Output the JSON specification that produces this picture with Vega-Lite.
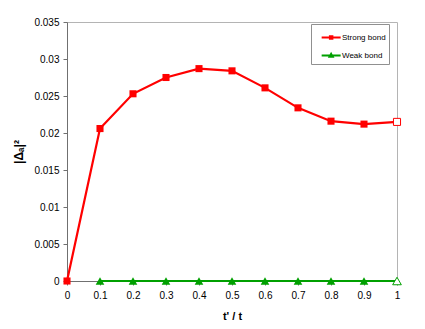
{
  "$schema": "https://vega.github.io/schema/vega-lite/v6.json",
  "width": 330,
  "height": 259,
  "autosize": {"type": "none"},
  "padding": {"left": 67, "top": 22, "right": 28, "bottom": 48},
  "background": "white",
  "config": {
    "font": "Liberation Sans",
    "view": {"stroke": "#b4b4b4", "strokeWidth": 1},
    "axis": {
      "grid": false,
      "labelFlush": false,
      "domainColor": "#707070",
      "tickColor": "#707070",
      "tickSize": 4,
      "labelFont": "Liberation Sans",
      "labelFontSize": 10,
      "labelColor": "#000000",
      "titleFont": "Liberation Sans",
      "titleColor": "#000000",
      "titleFontWeight": "bold",
      "titleFontSize": 11
    }
  },
  "data": {
    "values": [
      {"x": 0, "y": 0, "series": "Strong bond"},
      {"x": 0.1, "y": 0.0206, "series": "Strong bond"},
      {"x": 0.2, "y": 0.0253, "series": "Strong bond"},
      {"x": 0.3, "y": 0.0275, "series": "Strong bond"},
      {"x": 0.4, "y": 0.0287, "series": "Strong bond"},
      {"x": 0.5, "y": 0.0284, "series": "Strong bond"},
      {"x": 0.6, "y": 0.0261, "series": "Strong bond"},
      {"x": 0.7, "y": 0.0234, "series": "Strong bond"},
      {"x": 0.8, "y": 0.0216, "series": "Strong bond"},
      {"x": 0.9, "y": 0.0212, "series": "Strong bond"},
      {"x": 1.0, "y": 0.0215, "series": "Strong bond"},
      {"x": 0.1, "y": 0, "series": "Weak bond"},
      {"x": 0.2, "y": 0, "series": "Weak bond"},
      {"x": 0.3, "y": 0, "series": "Weak bond"},
      {"x": 0.4, "y": 0, "series": "Weak bond"},
      {"x": 0.5, "y": 0, "series": "Weak bond"},
      {"x": 0.6, "y": 0, "series": "Weak bond"},
      {"x": 0.7, "y": 0, "series": "Weak bond"},
      {"x": 0.8, "y": 0, "series": "Weak bond"},
      {"x": 0.9, "y": 0, "series": "Weak bond"},
      {"x": 1.0, "y": 0, "series": "Weak bond"}
    ]
  },
  "encoding": {
    "x": {
      "field": "x", "type": "quantitative",
      "scale": {"domain": [0, 1], "nice": false, "zero": false},
      "axis": {"values": [0, 0.1, 0.2, 0.3, 0.4, 0.5, 0.6, 0.7, 0.8, 0.9, 1], "format": "~g", "labelFlush": false, "labelPadding": 5, "title": "t' / t", "titleBaseline": "alphabetic", "titleY": 38}
    },
    "y": {
      "field": "y", "type": "quantitative",
      "scale": {"domain": [0, 0.035], "nice": false},
      "axis": {"values": [0, 0.005, 0.01, 0.015, 0.02, 0.025, 0.03, 0.035], "format": ".3~f", "labelFlush": false, "labelPadding": 4, "title": "|Δₐ|²", "titleX": -42, "titleFontSize": 12}
    },
    "color": {
      "field": "series", "type": "nominal",
      "scale": {"domain": ["Strong bond", "Weak bond"], "range": ["#ff0000", "#00a000"]},
      "legend": null
    }
  },
  "layer": [
    {
      "mark": {"type": "line", "strokeWidth": 2.2},
      "encoding": {
        "color": {
          "field": "series", "type": "nominal",
          "legend": {
            "orient": "none", "legendX": 244, "legendY": 2, "title": null,
            "strokeColor": "#909090", "fillColor": "white", "padding": 3,
            "labelFont": "Liberation Sans", "labelFontSize": 8, "labelColor": "#000000",
            "labelExpr": "datum.label + '   '",
            "symbolSize": 361, "symbolStrokeWidth": 2, "rowPadding": 2, "labelOffset": 7,
            "symbolType": "M-0.3,0H1.7M0.57,-0.13H0.83V0.13H0.57Z",
            "encode": {
              "symbols": {
                "update": {
                  "shape": {"signal": "datum.value === 'Strong bond' ? 'M-0.3,0H1.7M0.57,-0.13H0.83V0.13H0.57Z' : 'M-0.3,0H1.7M0.7,-0.17L0.87,0.13H0.53Z'"},
                  "fill": {"signal": "datum.value === 'Strong bond' ? '#ff0000' : '#00a000'"},
                  "stroke": {"signal": "datum.value === 'Strong bond' ? '#ff0000' : '#00a000'"},
                  "opacity": {"value": 1},
                  "fillOpacity": {"value": 1},
                  "strokeOpacity": {"value": 1}
                }
              }
            }
          }
        }
      }
    },
    {
      "transform": [{"filter": "datum.x < 1 && datum.series === 'Strong bond'"}],
      "mark": {"type": "point", "shape": "square", "filled": true, "size": 50, "opacity": 1}
    },
    {
      "transform": [{"filter": "datum.x < 1 && datum.series === 'Weak bond'"}],
      "mark": {"type": "point", "shape": "triangle-up", "filled": true, "size": 75, "opacity": 1}
    },
    {
      "transform": [{"filter": "datum.x == 1 && datum.series === 'Strong bond'"}],
      "mark": {"type": "point", "shape": "square", "filled": false, "fill": "white", "fillOpacity": 1, "strokeWidth": 1, "size": 50, "opacity": 1}
    },
    {
      "transform": [{"filter": "datum.x == 1 && datum.series === 'Weak bond'"}],
      "mark": {"type": "point", "shape": "triangle-up", "filled": false, "fill": "white", "fillOpacity": 1, "strokeWidth": 1, "size": 75, "opacity": 1}
    }
  ]
}
